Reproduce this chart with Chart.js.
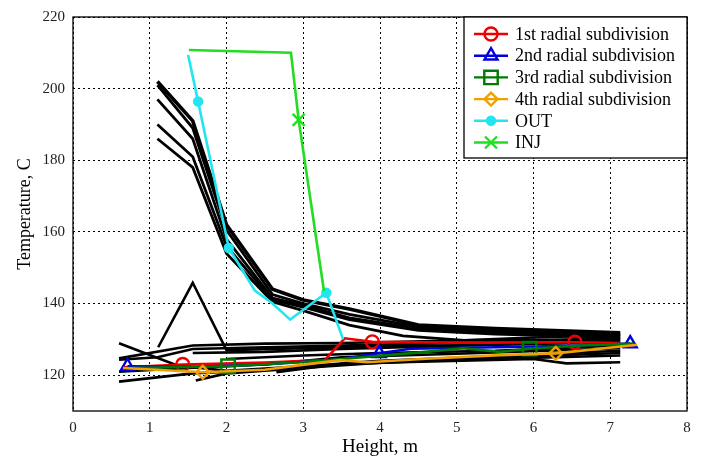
<!DOCTYPE html>
<html>
<head>
<meta charset="utf-8">
<script src="https://cdn.jsdelivr.net/npm/chart.js@4.4.0/dist/chart.umd.min.js"></script>
<style>
  html, body { margin: 0; padding: 0; background: #fff; }
  #wrap { width: 705px; height: 457px; }
</style>
</head>
<body>
<div id="wrap"><canvas id="myChart"></canvas></div>
<script>
// ticks
var xTicks = [0, 1, 2, 3, 4, 5, 6, 7, 8]
var yTicks = [120, 140, 160, 180, 200, 220]

// [height m, temperature C]
var sub1 = [[0.65,122.2],[1.43,123],[2.5,123.5],[3.28,124.2],[3.54,130.3],[3.9,129.3],[5,129.1],[6.54,129.2],[7.13,129]]
var sub2 = [[0.71,122.5],[1.5,122.3],[2.5,123],[3.5,124.5],[3.99,126.1],[4.4,127.4],[5.5,127.8],[6.5,128.2],[7.26,128.8]]
var sub3 = [[0.7,122],[1.5,122.3],[2.02,122.5],[2.96,123.6],[3.5,124.5],[4.6,126.5],[5.08,127.5],[5.56,126.5],[5.95,127.4],[6.6,128.3],[7.3,128.8]]
var sub4 = [[0.65,122],[1.69,120.8],[2.5,121.5],[2.96,122.8],[3.48,124.2],[3.83,123.6],[4.6,124.6],[5.56,125.6],[6.29,126.1],[7.35,128.5]]
var outT = [[1.5,209.4],[1.63,196.4],[2.03,155.5],[2.37,143.6],[2.6,140],[2.83,135.5],[3.3,143],[3.52,130]]
var injT = [[1.51,210.8],[2.84,210],[2.94,191.3],[3.27,143.5]]

// black traces, hot branch
var hot1 = [[1.1,202],[1.56,191],[2.0,162],[2.6,144],[3.0,141],[3.6,138.5],[4.5,134],[5.5,133],[7.13,131.8]]
var hot2 = [[1.1,201],[1.56,189],[2.0,160.5],[2.6,142.5],[3.0,140],[3.6,137],[4.5,133.5],[5.5,132.5],[7.13,131.5]]
var hot3 = [[1.1,197],[1.56,186],[2.0,158],[2.6,141.5],[3.0,139.5],[3.6,136],[4.5,133],[5.5,132],[7.13,131]]
var hot4 = [[1.1,190],[1.56,181],[2.0,156],[2.6,141],[3.0,139],[3.6,135.5],[4.5,132.5],[5.5,131.5],[7.13,130.5]]
var hot5 = [[1.1,186],[1.56,178],[2.0,154],[2.6,140.5],[3.0,138],[3.6,134],[4.3,131],[5.1,129.7],[7.13,130]]

// black traces, cold branch
var cold1 = [[0.6,124.7],[1.56,128.3],[2.5,128.8],[3.5,129],[5,129.7],[6,130.5],[7.13,131.2]]
var cold2 = [[0.6,124.3],[1.1,125],[1.56,127.3],[2.5,127.8],[3.5,128.3],[5,129],[7.13,130.3]]
var cold3 = [[1.56,126.2],[2.5,126.5],[3.5,127.3],[5,128.2],[7.13,129.5]]
var spike = [[1.11,127.8],[1.56,145.8],[2.0,127],[3,127.5],[4,128],[5.5,128.5],[7.13,129.2]]
var cold4 = [[0.6,128.9],[1.35,122.8],[2.0,121.2],[3,122.5],[4,124],[5.5,125.3],[7.13,126.8]]
var cold5 = [[0.6,118.2],[1.56,120.5],[2.5,121.5],[3.5,123],[5,124.3],[6.3,125],[7.13,125.5]]
var cold6 = [[1.6,118.5],[2.0,120.5],[3,122],[4,123.5],[6,124.5],[6.43,123.3],[7.13,123.6]]
var cold7 = [[0.6,121],[1.5,122],[2.5,123],[3.5,125],[5,126],[7.13,127.5]]
var cold8 = [[2.0,124.5],[3,125.5],[4,126.2],[5.5,126.8],[7.13,128.3]]
var cold9 = [[2.65,120.8],[3.5,123.2],[5,124.5],[7.13,126.2]]

var hotLines = [hot1, hot2, hot3, hot4, hot5]
var coldLines = [cold1, cold2, cold3, spike, cold4, cold5, cold6, cold7, cold8, cold9]

function pts(arr) {
    return arr.map(function (p) { return {x: p[0], y: p[1]} })
}

// marker only on some points
function marksAt(idx, r) {
    return function (ctx) { return idx.indexOf(ctx.dataIndex) >= 0 ? r : 0 }
}

var serif = '"Liberation Serif", "DejaVu Serif", serif'

var colored = [
    {label: 'INJ', data: pts(injT), borderColor: '#22dd22', pointStyle: 'crossRot', rad: 8.5, fill: false, marks: [2]},
    {label: 'OUT', data: pts(outT), borderColor: '#22e5f0', pointStyle: 'circle', rad: 4, fill: true, marks: [1, 2, 6]},
    {label: '4th radial subdivision', data: pts(sub4), borderColor: '#f0a000', pointStyle: 'rectRot', rad: 6.5, fill: false, marks: [1, 8]},
    {label: '3rd radial subdivision', data: pts(sub3), borderColor: '#007a00', pointStyle: 'rect', rad: 9.5, fill: false, marks: [2, 8]},
    {label: '2nd radial subdivision', data: pts(sub2), borderColor: '#0000dd', pointStyle: 'triangle', rad: 7.5, fill: false, marks: [0, 4, 8]},
    {label: '1st radial subdivision', data: pts(sub1), borderColor: '#ee0000', pointStyle: 'circle', rad: 6.5, fill: false, marks: [1, 5, 7]}
]

var datasets = []
colored.forEach(function (c) {
    datasets.push({
        label: c.label,
        data: c.data,
        borderColor: c.borderColor,
        borderWidth: 2.6,
        pointStyle: c.pointStyle,
        pointBorderColor: c.borderColor,
        pointBackgroundColor: c.fill ? c.borderColor : 'rgba(0,0,0,0)',
        pointBorderWidth: 2.4,
        pointRadius: marksAt(c.marks, c.rad),
        pointHoverRadius: 0,
        tension: 0,
        legendRad: c.rad,
        legendFill: c.fill
    })
})
hotLines.forEach(function (l, i) {
    datasets.push({label: 'hot' + i, data: pts(l), borderColor: '#000', borderWidth: i == 0 ? 3.6 : 2.8,
        pointRadius: 0, tension: 0})
})
coldLines.forEach(function (l, i) {
    datasets.push({label: 'cold' + i, data: pts(l), borderColor: '#000', borderWidth: 2.6,
        pointRadius: 0, tension: 0})
})

// box round the plot + legend in the upper right corner
var boxLegend = {
    id: 'boxLegend',
    afterDraw: function (chart) {
        var ctx = chart.ctx
        var a = chart.chartArea
        ctx.save()
        ctx.strokeStyle = '#000'
        ctx.lineWidth = 1.3
        ctx.strokeRect(a.left, a.top, a.right - a.left, a.bottom - a.top)

        var bx = 464, by = a.top, bw = a.right - 464, bh = 141
        ctx.fillStyle = '#fff'
        ctx.fillRect(bx, by, bw, bh)
        ctx.strokeRect(bx, by, bw, bh)

        var order = ['1st radial subdivision', '2nd radial subdivision', '3rd radial subdivision',
            '4th radial subdivision', 'OUT', 'INJ']
        ctx.font = '18px ' + serif
        ctx.textBaseline = 'middle'
        order.forEach(function (name, i) {
            var ds = chart.data.datasets.find(function (d) { return d.label == name })
            var y = by + 17 + i * 21.7
            ctx.strokeStyle = ds.borderColor
            ctx.lineWidth = 2.4
            ctx.beginPath()
            ctx.moveTo(474, y)
            ctx.lineTo(508, y)
            ctx.stroke()
            ctx.fillStyle = ds.legendFill ? ds.borderColor : 'rgba(0,0,0,0)'
            Chart.helpers.drawPoint(ctx, {pointStyle: ds.pointStyle, radius: ds.legendRad, rotation: 0, borderWidth: 2.4}, 491, y)
            ctx.fillStyle = '#000'
            ctx.fillText(name, 515, y + 1)
        })
        ctx.restore()
    }
}

new Chart(document.getElementById('myChart'), {
    type: 'line',
    data: {datasets: datasets},
    options: {
        responsive: true,
        maintainAspectRatio: false,
        animation: false,
        layout: {padding: {left: 0, top: 15, right: 18, bottom: 0}},
        plugins: {legend: {display: false}, tooltip: {enabled: false}},
        scales: {
            x: {
                type: 'linear', min: 0, max: 8,
                afterBuildTicks: function (s) { s.ticks = xTicks.map(function (v) { return {value: v} }) },
                afterFit: function (s) { s.height = 46 },
                grid: {color: '#000', lineWidth: 1, drawTicks: false},
                border: {display: false, dash: [2, 3]},
                ticks: {color: '#222', padding: 8, font: {family: serif, size: 15}},
                title: {display: true, text: 'Height, m', color: '#000', font: {family: serif, size: 19, lineHeight: 1}, padding: {top: 0, bottom: 0}}
            },
            y: {
                type: 'linear', min: 110, max: 220,
                afterBuildTicks: function (s) { s.ticks = yTicks.map(function (v) { return {value: v} }) },
                afterFit: function (s) { s.width = 73 },
                grid: {color: '#000', lineWidth: 1, drawTicks: false},
                border: {display: false, dash: [2, 3]},
                ticks: {color: '#222', padding: 8, font: {family: serif, size: 15}},
                title: {display: true, text: 'Temperature, C', color: '#000', font: {family: serif, size: 18, lineHeight: 1}, padding: {top: 16, bottom: 0}}
            }
        }
    },
    plugins: [boxLegend]
})
</script>
</body>
</html>
